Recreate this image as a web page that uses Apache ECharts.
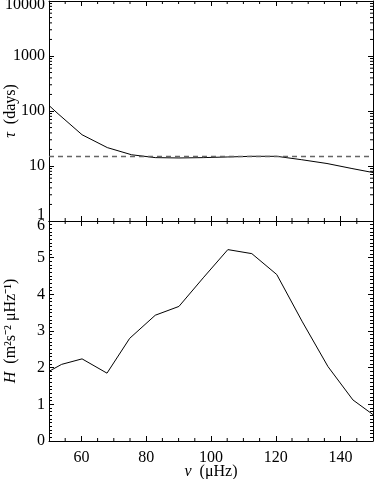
<!DOCTYPE html>
<html>
<head>
<meta charset="utf-8">
<style>
  html, body { margin: 0; padding: 0; background: #fff; }
  #chart { width: 374px; height: 479px; }
</style>
</head>
<body>
<div id="chart"></div>
<script src="https://cdn.jsdelivr.net/npm/echarts@6/dist/echarts.min.js"></script>
<script>
    // frequencies (muHz), with the values of each panel
    var nuTau  = [50, 52.8, 60.2, 68, 75.5, 82.8, 90.1, 97.6, 105.2, 112.6, 120.3, 128, 135.8, 143.5, 150];
    var tauVal = [126, 89, 37, 21.6, 16, 14.2, 14, 14.2, 14.6, 15, 15, 13, 11.1, 9, 7.6];
    var tauRef = 15;

    var nuH  = [50, 53.9, 60.2, 67.9, 74.9, 82.8, 90.1, 97.6, 105.2, 112.6, 120.3, 128.2, 136.1, 143.8, 150];
    var hVal = [1.9, 2.09, 2.24, 1.85, 2.8, 3.43, 3.67, 4.45, 5.22, 5.11, 4.54, 3.25, 2.03, 1.12, 0.72];

    // tick values
    var xMajor = [60, 80, 100, 120, 140];
    var xMinor = [55, 65, 70, 75, 85, 90, 95, 105, 110, 115, 125, 130, 135, 145];
    var logMinor = [2,3,4,5,6,7,8,9, 20,30,40,50,60,70,80,90, 200,300,400,500,600,700,800,900,
                    2000,3000,4000,5000,6000,7000,8000,9000];

    var font = 'Liberation Serif';
    var fs = 16;
    var ink = '#000';

    function pairs(xs, ys) {
        var out = [];
        for (var i = 0; i < xs.length; i++) out.push([xs[i], ys[i]]);
        return out;
    }

    // short inside ticks drawn on both opposite edges
    function xTickItem(yLo, yHi) {
        return function (params, api) {
            var a = api.coord([api.value(0), yLo]);
            var b = api.coord([api.value(0), yHi]);
            return { type: 'group', children: [
                { type: 'line', shape: { x1: a[0], y1: a[1], x2: a[0], y2: a[1] - 3 }, style: { stroke: ink, lineWidth: 1 } },
                { type: 'line', shape: { x1: b[0], y1: b[1], x2: b[0], y2: b[1] + 3 }, style: { stroke: ink, lineWidth: 1 } }
            ]};
        };
    }
    function yTickItem(params, api) {
        var a = api.coord([50, api.value(1)]);
        var b = api.coord([150, api.value(1)]);
        return { type: 'group', children: [
            { type: 'line', shape: { x1: a[0], y1: a[1], x2: a[0] + 3, y2: a[1] }, style: { stroke: ink, lineWidth: 1 } },
            { type: 'line', shape: { x1: b[0], y1: b[1], x2: b[0] - 3, y2: b[1] }, style: { stroke: ink, lineWidth: 1 } }
        ]};
    }

    function xAxisOf(grid, pos, labels) {
        return {
            type: 'value', gridIndex: grid, position: pos, min: 50, max: 150,
            axisLine: { show: true, onZero: false, lineStyle: { color: ink, width: 1 } },
            axisTick: { show: true, inside: true, length: 5, customValues: xMajor, lineStyle: { color: ink } },
            axisLabel: labels ? { show: true, customValues: xMajor, margin: 9, color: ink, fontFamily: font, fontSize: fs } : { show: false },
            splitLine: { show: false }
        };
    }

    var chart = echarts.init(document.getElementById('chart'));
    var option = {
        animation: false,
        backgroundColor: '#fff',
        grid: [
            { left: 49, width: 324, top: 1, height: 220, outerBoundsMode: 'none', containLabel: false },
            { left: 49, width: 324, top: 221, height: 220, outerBoundsMode: 'none', containLabel: false }
        ],
        xAxis: [
            xAxisOf(0, 'bottom', false),
            xAxisOf(0, 'top', false),
            Object.assign(xAxisOf(1, 'bottom', true), {
                name: '{g|ν}  (μHz)', nameLocation: 'middle', nameGap: 23, nameMoveOverlap: false,
                nameTextStyle: { color: ink, fontFamily: font, fontSize: fs,
                    rich: { g: { fontFamily: font, fontSize: fs, fontStyle: 'italic', color: ink } } }
            }),
            xAxisOf(1, 'top', false)
        ],
        yAxis: [
            {
                type: 'log', logBase: 10, gridIndex: 0, position: 'left', min: 1, max: 10000,
                name: '{g|τ}  (days)', nameLocation: 'middle', nameGap: 30, nameMoveOverlap: false,
                nameTextStyle: { color: ink, fontFamily: font, fontSize: fs,
                    rich: { g: { fontFamily: font, fontSize: fs, fontStyle: 'italic', color: ink } } },
                axisLine: { show: true, onZero: false, lineStyle: { color: ink } },
                axisTick: { show: true, inside: true, length: 5, lineStyle: { color: ink } },
                axisLabel: {
                    color: ink, fontFamily: font, fontSize: fs, margin: 4,
                    formatter: function (v) {
                        if (v === 10000) return '{t|10000}';
                        if (v === 1) return '{b|1}';
                        return String(v);
                    },
                    rich: {
                        t: { fontFamily: font, fontSize: fs, color: ink, padding: [8, 0, 0, 0] },
                        b: { fontFamily: font, fontSize: fs, color: ink, padding: [0, 0, 12, 0] }
                    }
                },
                splitLine: { show: false }
            },
            {
                type: 'log', logBase: 10, gridIndex: 0, position: 'right', min: 1, max: 10000,
                axisLine: { show: true, onZero: false, lineStyle: { color: ink } },
                axisTick: { show: true, inside: true, length: 5, lineStyle: { color: ink } },
                axisLabel: { show: false },
                splitLine: { show: false }
            },
            {
                type: 'value', gridIndex: 1, position: 'left', min: 0, max: 6, interval: 1,
                name: '{i|H}  (m²s⁻² μHz⁻¹)', nameLocation: 'middle', nameGap: 30, nameMoveOverlap: false,
                nameTextStyle: { color: ink, fontFamily: font, fontSize: fs,
                    rich: { i: { fontFamily: font, fontSize: fs, fontStyle: 'italic', color: ink } } },
                axisLine: { show: true, onZero: false, lineStyle: { color: ink } },
                axisTick: { show: true, inside: true, length: 5, lineStyle: { color: ink } },
                minorTick: { show: true, splitNumber: 10, length: 3, lineStyle: { color: ink } },
                axisLabel: {
                    color: ink, fontFamily: font, fontSize: fs, margin: 4,
                    formatter: function (v) { return v === 6 ? '{t|6}' : String(v); },
                    rich: { t: { fontFamily: font, fontSize: fs, color: ink, padding: [9, 0, 0, 0] } }
                },
                splitLine: { show: false }
            },
            {
                type: 'value', gridIndex: 1, position: 'right', min: 0, max: 6, interval: 1,
                axisLine: { show: true, onZero: false, lineStyle: { color: ink } },
                axisTick: { show: true, inside: true, length: 5, lineStyle: { color: ink } },
                minorTick: { show: true, splitNumber: 10, length: 3, lineStyle: { color: ink } },
                axisLabel: { show: false },
                splitLine: { show: false }
            }
        ],
        series: [
            {
                type: 'line', xAxisIndex: 0, yAxisIndex: 0,
                data: pairs(nuTau, tauVal), showSymbol: false, symbol: 'none',
                lineStyle: { color: ink, width: 1 }, clip: true,
                markLine: {
                    silent: true, symbol: ['none', 'none'], label: { show: false },
                    lineStyle: { color: '#666', width: 1.3, type: [5, 4] },
                    data: [{ yAxis: tauRef }]
                }
            },
            {
                type: 'line', xAxisIndex: 2, yAxisIndex: 2,
                data: pairs(nuH, hVal), showSymbol: false, symbol: 'none',
                lineStyle: { color: ink, width: 1 }, clip: true
            },
            {
                type: 'custom', xAxisIndex: 0, yAxisIndex: 0, silent: true, clip: false,
                renderItem: xTickItem(1, 10000),
                data: xMinor.map(function (v) { return [v, 10]; })
            },
            {
                type: 'custom', xAxisIndex: 0, yAxisIndex: 0, silent: true, clip: false,
                renderItem: yTickItem,
                data: logMinor.map(function (v) { return [100, v]; })
            },
            {
                type: 'custom', xAxisIndex: 2, yAxisIndex: 2, silent: true, clip: false,
                renderItem: xTickItem(0, 6),
                data: xMinor.map(function (v) { return [v, 3]; })
            }
        ]
    };
    chart.setOption(option);
</script>
</body>
</html>
